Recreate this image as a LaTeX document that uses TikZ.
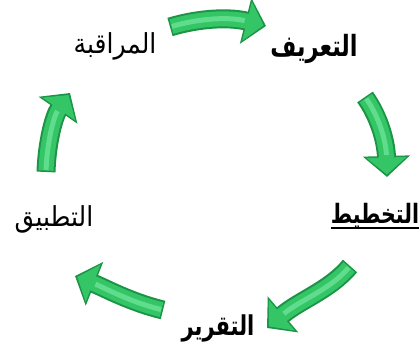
\documentclass[tikz,border=0pt]{standalone}
\usepackage{fontspec}
\newfontfamily\arabicfont[Script=Arabic]{DejaVu Sans}
\TeXXeTstate=1
\usetikzlibrary{arrows.meta}
\definecolor{arrowdark}{HTML}{1C9446}
\definecolor{arrowmain}{HTML}{33C566}
\definecolor{arrowlight}{HTML}{5FDD8C}
\tikzset{
  plainlbl/.style={font=\arabicfont\fontsize{#1}{#1}\selectfont, inner sep=0pt},
  boldlbl/.style={font=\arabicfont\bfseries\fontsize{#1}{#1}\selectfont, inner sep=0pt},
  arrowedge/.style={draw=arrowdark, line width=19pt, -{Triangle[width=46pt,length=21pt]}},
  arrowbody/.style={draw=arrowmain, line width=15pt, shorten >=2.5pt, shorten <=1.5pt, -{Triangle[width=39pt,length=17pt]}},
  arrowshine/.style={draw=arrowlight, line width=5pt, shorten >=22pt, shorten <=2pt},
}
\newcommand\greenarrow[4]{%
  \draw[arrowedge] (#1) .. controls #2 and #3 .. (#4);
  \draw[arrowbody] (#1) .. controls #2 and #3 .. (#4);
  \draw[arrowshine] (#1) .. controls #2 and #3 .. (#4);
}
\newcommand\tallar[2]{\scalebox{1}[#1]{\beginR #2\endR}}
\begin{document}
\begin{tikzpicture}[x=1pt,y=-1pt]
\useasboundingbox[fill=white] (0,0) rectangle (420,344);
% labels
\node[boldlbl=22.5]  (define)  at (314,49)  {\tallar{1.3}{التعريف}};
\node[plainlbl=25] (monitor) at (115,46)  {\tallar{1.1}{المراقبة}};
\node[boldlbl=20.5]  (plan)    at (375,216) {\tallar{1.3}{التخطيط}};
\node[boldlbl=21]  (report)  at (218,328) {\tallar{1.3}{التقرير}};
\node[plainlbl=25] (apply)   at (54,219)  {\tallar{1.1}{التطبيق}};
\draw[line width=2pt] ([yshift=-4pt]plan.base west) -- ([yshift=-4pt]plan.base east);
% arrow end points
\coordinate (a1) at (170,27);  \coordinate (b1) at (266,26);
\coordinate (a2) at (365,97);  \coordinate (b2) at (387,177);
\coordinate (a3) at (350,266); \coordinate (b3) at (267,328);
\coordinate (a4) at (163,310); \coordinate (b4) at (75,276);
\coordinate (a5) at (46,172);  \coordinate (b5) at (70,93);
\greenarrow{a1}{(200,18)}{(230,17)}{b1}
\greenarrow{a2}{(378,115)}{(386,140)}{b2}
\greenarrow{a3}{(330,290)}{(300,300)}{b3}
\greenarrow{a4}{(130,302)}{(105,288)}{b4}
\greenarrow{a5}{(47,142)}{(54,116)}{b5}
\end{tikzpicture}
\end{document}
